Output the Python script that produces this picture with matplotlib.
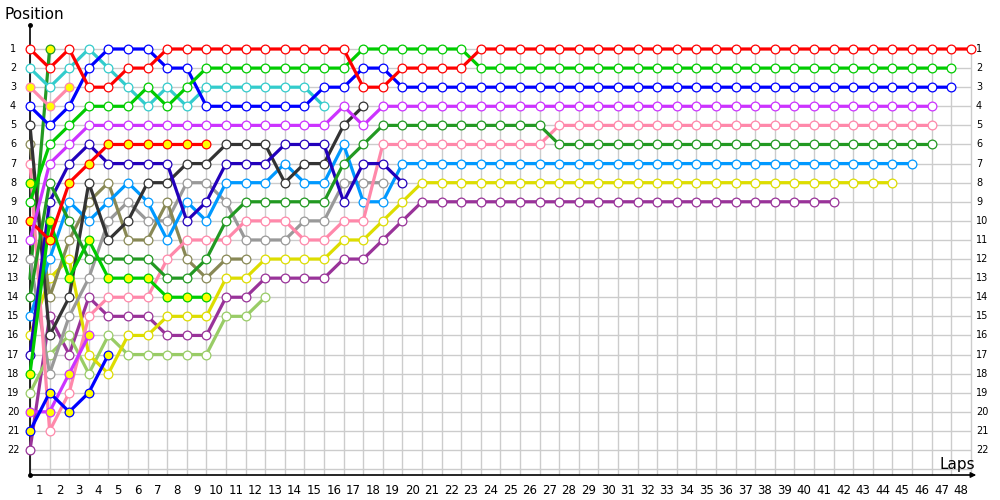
import matplotlib
matplotlib.use("Agg")
import matplotlib.pyplot as plt

# ---- data: position after each lap (index 0 = grid) ----
red_a      = [1,2,1,3,3,2,2,1,1,1,1,1,1,1,1,1,1,3,3,2,2,2,2] + [1]*26
red_b      = [10,11,8,7,6,6,6,6,6,6]
green_a    = [9,6,5,4,4,4,3,4,3,2,2,2,2,2,2,2,2,1,1,1,1,1,1] + [2]*25
green_b    = [18,10,13,11,13,13,13,14,14,14]
green_c    = [8]
blue_a     = [4,5,4,2,1,1,1,2,2,4,4,4,4,4,4,3,3,2,2] + [3]*29
blue_b     = [21,19,20,19,17]
cyan_a     = [2,3,2,1,2,3,4,3,4,3,3,3,3,3,3,4]
magenta_a  = [11,7,6,5,5,5,5,5,5,5,5,5,5,5,5,5,4,5] + [4]*29
magenta_b  = [20,20,18,16]
pink_a     = [7,21,19,15,14,14,14,12,11,11,11,10,10,10,11,11,10,10] + [6]*9 + [5]*20
pink_b     = [3,4,3]
dkgreen_a  = [14,8,10,12,12,12,12,13,13,12,10,9,9,9,9,9,7,6] + [5]*9 + [6]*20
dkgreen_b  = [13,1]
dkgray_a   = [5,16,14,8,11,10,8,8,7,7,6,6,6,8,7,7,5,4]
olive_a    = [6,14,11,9,8,11,11,9,12,13,12,12]
ltblue_a   = [15,12,9,10,9,8,9,11,9,10,8,8,8,7,8,8,6,9,9] + [7]*27
gray_a     = [12,18,15,13,10,9,10,10,8,8,9,11,11,11,10,10,8,8,8]
indigo_a   = [17,9,7,6,7,7,7,7,10,9,7,7,7,6,6,6,9,7,7,8]
yellow_a   = [16,13,12,17,18,16,16,15,15,15,13,13,12,12,12,12,11,11,10,9] + [8]*25
purple_a   = [22,15,17,14,15,15,15,16,16,16,14,14,13,13,13,13,12,12,11,10] + [9]*22
ltgreen_a  = [19,17,16,18,16,17,17,17,17,17,15,15,14]

n_laps = 48
n_pos = 22

# (values, colour, marker fill, first marked lap)
series = [
    (dkgreen_b, '#229922', '#ffff00', 1),
    (purple_a,  '#993399', 'white', 0),
    (ltgreen_a, '#99cc66', 'white', 0),
    (yellow_a,  '#dddd00', 'white', 0),
    (gray_a,    '#999999', 'white', 0),
    (olive_a,   '#888855', 'white', 0),
    (ltblue_a,  '#0099ff', 'white', 0),
    (pink_a,    '#ff88aa', 'white', 0),
    (dkgray_a,  '#333333', 'white', 0),
    (indigo_a,  '#2200bb', 'white', 0),
    (dkgreen_a, '#229922', 'white', 0),
    (magenta_b, '#cc33ff', '#ffff00', 0),
    (blue_b,    '#0000ff', '#ffff00', 0),
    (green_b,   '#00cc00', '#ffff00', 0),
    (red_b,     '#ff0000', '#ffff00', 0),
    (pink_b,    '#ff88aa', '#ffff00', 0),
    (cyan_a,    '#33cccc', 'white', 0),
    (magenta_a, '#cc33ff', 'white', 0),
    (blue_a,    '#0000ff', 'white', 0),
    (green_a,   '#00cc00', 'white', 0),
    (green_c,   '#00cc00', '#ffff00', 0),
    (red_a,     '#ff0000', 'white', 0),
]

fig = plt.figure(figsize=(10, 5), dpi=100)
ax = fig.add_axes([0, 0, 1, 1])
ax.set_axis_off()

# pixel mapping: lap0 -> x=30px, 19.6 px per lap ; pos1 -> y=49px
px_lap = 19.6
px_pos = (450 - 49) / 21
x0, y0 = 30, 49
ax.set_xlim((0 - x0) / px_lap, (1000 - x0) / px_lap)
ax.set_ylim(1 + (500 - y0) / px_pos, 1 + (0 - y0) / px_pos)

def lap_of(px):
    return (px - x0) / px_lap

def pos_of(py):
    return 1 + (py - y0) / px_pos

bottom = pos_of(475)
gc = '#cccccc'
for k in range(n_laps + 1):
    ax.plot([k, k], [1, bottom], color=gc, lw=1, zorder=1, solid_capstyle='butt')
for p in range(1, n_pos + 2):
    ax.plot([0, n_laps], [p, p], color=gc, lw=1, zorder=1, solid_capstyle='butt')

# axes lines with arrows
ax.plot([0, 0], [bottom, pos_of(25)], color='black', lw=1.2, zorder=2)
ax.plot([0], [pos_of(25)], marker='o', color='black', ms=2.5, zorder=2)
ax.plot([0, lap_of(972)], [bottom, bottom], color='black', lw=1.2, zorder=2)
ax.annotate('', xy=(lap_of(979), bottom), xytext=(lap_of(968), bottom),
            arrowprops=dict(arrowstyle='-|>', color='black', lw=1, mutation_scale=8), zorder=2)
ax.plot([0], [bottom], marker='o', color='black', ms=2.5, zorder=2)

# series
for i, (vals, col, fill, first) in enumerate(series):
    laps = list(range(len(vals)))
    ax.plot(laps, vals, color=col, lw=2.3, zorder=3 + i * 0.01,
            marker='o', ms=6.3, mfc=fill, mec=col, mew=0.9, solid_joinstyle='round',
            markevery=list(range(first, len(vals))))

# tick labels
for p in range(1, n_pos + 1):
    ax.text(lap_of(13), p, str(p), ha='center', va='center', fontsize=7, color='black')
    ax.text(lap_of(976), p, str(p), ha='left', va='center', fontsize=7, color='black')
for k in range(1, n_laps + 1):
    ax.text(k - 0.5, pos_of(490), str(k), ha='center', va='center', fontsize=8.5, color='black')

ax.text(lap_of(4), pos_of(15), 'Position', ha='left', va='center', fontsize=11)
ax.text(lap_of(975), pos_of(465), 'Laps', ha='right', va='center', fontsize=11)

fig.savefig('out.png', dpi=100)
